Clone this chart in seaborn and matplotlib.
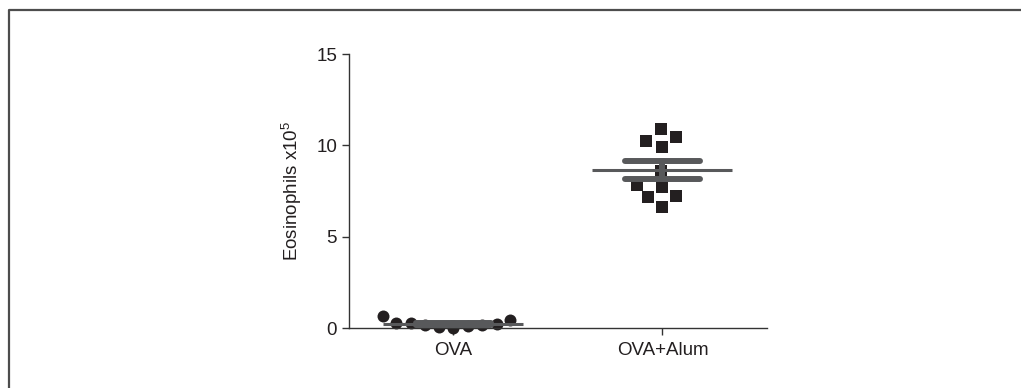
import numpy as np
import pandas as pd
import seaborn as sns
from matplotlib import pyplot as plt
from matplotlib.lines import Line2D
from matplotlib.path import Path

# %%
groups = ["OVA", "OVA+Alum"]
ova = [0.30, 0.15, 0.08, 0.45, 0.00, 0.65, 0.10, 0.15, 0.22, 0.30]
ova_alum = [10.9, 10.45, 10.25, 9.9, 8.6, 7.85, 7.7, 7.2, 7.15, 6.65]
ylabel = "Eosinophils x10$^5$"
yticks = [0, 5, 10, 15]

data = pd.concat([
    pd.DataFrame({"group": "OVA", "eos": ova}),
    pd.DataFrame({"group": "OVA+Alum", "eos": ova_alum}),
], ignore_index=True)


# %%
# markers drawn smaller than the box swarmplot reserves for them (looser swarm)
def padded(path, k):
    verts = np.vstack([[[-1, -1], [1, 1]], path.vertices * k])
    codes = np.concatenate([[Path.MOVETO, Path.MOVETO], path.codes])
    return Path(verts, codes)


sq = Path([(-1, -1), (1, -1), (1, 1), (-1, 1), (-1, -1)],
          [Path.MOVETO, Path.LINETO, Path.LINETO, Path.LINETO, Path.CLOSEPOLY])
circ = Path.unit_circle()

sns.set_style("ticks")
plt.rcParams["font.family"] = ["Liberation Sans", "DejaVu Sans"]
plt.rcParams["mathtext.default"] = "regular"

dot = "#231f20"
bar = "#58595b"

fig = plt.figure(figsize=(10.21, 3.88), dpi=100)
ax = fig.add_axes([0.3418, 0.1546, 0.4094, 0.7062])

# (marker, swarm box size in pt) per group; drawn mark is ~8.6 pt across
styles = [(padded(circ, 0.87), 9.9), (padded(sq, 0.72), 11.9)]
for name, (marker, size) in zip(groups, styles):
    sns.swarmplot(data=data[data.group == name], x="group", y="eos", order=groups,
                  marker=marker, color=dot, size=size, linewidth=0, ax=ax, clip_on=False, zorder=2)

# mean line
means = data.groupby("group")["eos"].mean()
for i, g in enumerate(groups):
    ax.hlines(means[g], i - 0.335, i + 0.335, color=bar, linewidth=2.2, zorder=4)

# SEM
sns.pointplot(data=data, x="group", y="eos", order=groups, errorbar="se", capsize=0.36,
              linestyle="none", marker="", color=bar, err_kws={"linewidth": 4.3}, ax=ax)
for ln in ax.lines:
    ln.set_zorder(4)
    ln.set_clip_on(False)

ax.set_xlim(-0.5, 1.5)
ax.set_ylim(0, 15)
ax.set_yticks(yticks)
ax.set_xlabel("")
ax.set_ylabel(ylabel, fontsize=13.5, labelpad=9, color="#231f20")
ax.tick_params(axis="both", labelsize=13.5, length=5, width=1, color="#333333", labelcolor="#231f20")
ax.tick_params(axis="x", pad=5)
for s in ["left", "bottom"]:
    ax.spines[s].set_color("#333333")
    ax.spines[s].set_linewidth(1)
sns.despine(ax=ax)

# frame around the figure (left and top edges)
fig.add_artist(Line2D([8.5 / 1021, 8.5 / 1021, 1.0], [0.0, 1 - 9.5 / 388, 1 - 9.5 / 388],
                      transform=fig.transFigure, color="#4d4d4d", linewidth=1.6))

fig.savefig("out.png", dpi=100)
